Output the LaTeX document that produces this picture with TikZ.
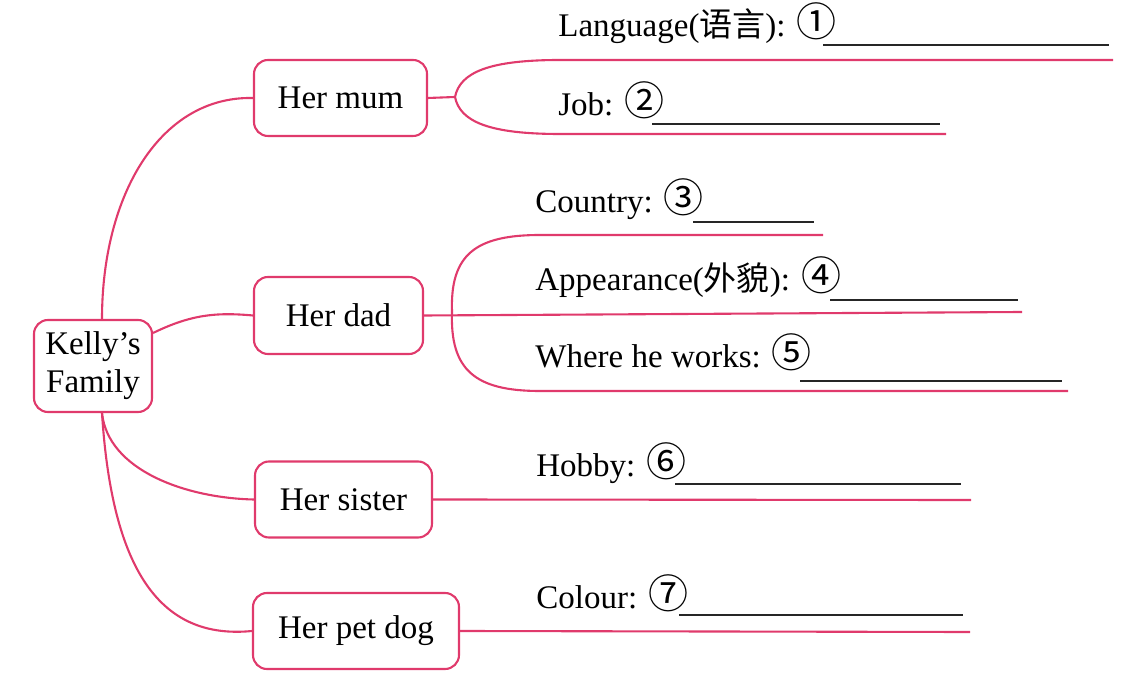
\documentclass[tikz,border=0pt]{standalone}
\usepackage{fontspec}
\setmainfont{Liberation Serif}
\newfontfamily\cjk{Noto Sans CJK SC}
\newcommand{\circnum}[1]{{\cjk\fontsize{20}{19}\selectfont #1}}
\usetikzlibrary{calc}
\definecolor{linkpink}{RGB}{224,58,108}
\tikzset{
  box/.style={draw=linkpink, line width=1.05pt, rounded corners=7pt, inner sep=0pt,
              align=center, font=\fontsize{16.5}{19}\selectfont},
  link/.style={draw=linkpink, line width=1.05pt},
  lbl/.style={anchor=base west, inner sep=0pt, font=\fontsize{16.5}{19}\selectfont},
  blank/.style={draw=black!85, line width=0.9pt}
}
\begin{document}
\begin{tikzpicture}[x=0.5pt,y=-0.5pt]
\useasboundingbox (0,0) rectangle (1145,694);
% boxes
\node[box, minimum width=59pt, minimum height=46pt] (root) at (93,366) {Kelly’s\\Family};
\node[box, minimum width=86.5pt, minimum height=38pt] (mum) at (340.5,98) {Her mum};
\node[box, minimum width=84.5pt, minimum height=38.5pt] (dad) at (338.5,315.5) {Her dad};
\node[box, minimum width=88.5pt, minimum height=38pt] (sister) at (343.5,499.5) {Her sister};
\node[box, minimum width=103pt, minimum height=38pt] (dog) at (356,631) {Her pet dog};
% anchor points on root
\coordinate (rtop) at ($(root.north)+(9,0)$);
\coordinate (rbot) at ($(root.south)+(9,0)$);
\coordinate (rright) at ($(root.east)+(0,-33)$);
% root connectors
\draw[link] (rtop) .. controls (102,195) and (160,96) .. (mum.west);
\draw[link] (rright) .. controls (190,315) and (215,312) .. (dad.west);
\draw[link] (rbot) .. controls (108,470) and (185,498) .. (sister.west);
\draw[link] (rbot) .. controls (112,570) and (160,640) .. (dog.west);
% mum branches
\coordinate (mf) at (455,97);
\coordinate (m1) at (1113,60);
\coordinate (m2) at (946,134);
\draw[link] (mum.east) -- (mf);
\draw[link] (mf) .. controls (460,72) and (490,60) .. (560,60) -- (m1);
\draw[link] (mf) .. controls (460,122) and (490,134) .. (560,134) -- (m2);
% dad branches
\coordinate (df) at (452,312);
\coordinate (d1) at (823,235);
\coordinate (d2) at (1022,312);
\coordinate (d3) at (1068,391);
\draw[link] (dad.east) -- (d2);
\draw[link] (df) .. controls (450,255) and (475,235) .. (540,235) -- (d1);
\draw[link] (df) .. controls (450,370) and (475,391) .. (540,391) -- (d3);
% sister and dog
\coordinate (s1) at (971,500);
\coordinate (g1) at (970,632);
\draw[link] (sister.east) -- (s1);
\draw[link] (dog.east) -- (g1);
% labels
\node[lbl] (t1) at (558,37) {Language({\cjk 语言}): \circnum{①}};
\node[lbl] (t2) at (558,116) {Job: \circnum{②}};
\node[lbl] (t3) at (535,213) {Country: \circnum{③}};
\node[lbl] (t4) at (535,291) {Appearance({\cjk 外貌}): \circnum{④}};
\node[lbl] (t5) at (535,368) {Where he works: \circnum{⑤}};
\node[lbl] (t6) at (536,477) {Hobby: \circnum{⑥}};
\node[lbl] (t7) at (536,608) {Colour: \circnum{⑦}};
% blanks
\draw[blank] (823,45) -- (1109,45);
\draw[blank] (652,124) -- (940,124);
\draw[blank] (693,222) -- (814,222);
\draw[blank] (830,300) -- (1018,300);
\draw[blank] (800,381) -- (1062,381);
\draw[blank] (675,484) -- (961,484);
\draw[blank] (679,615) -- (963,615);
\end{tikzpicture}
\end{document}
